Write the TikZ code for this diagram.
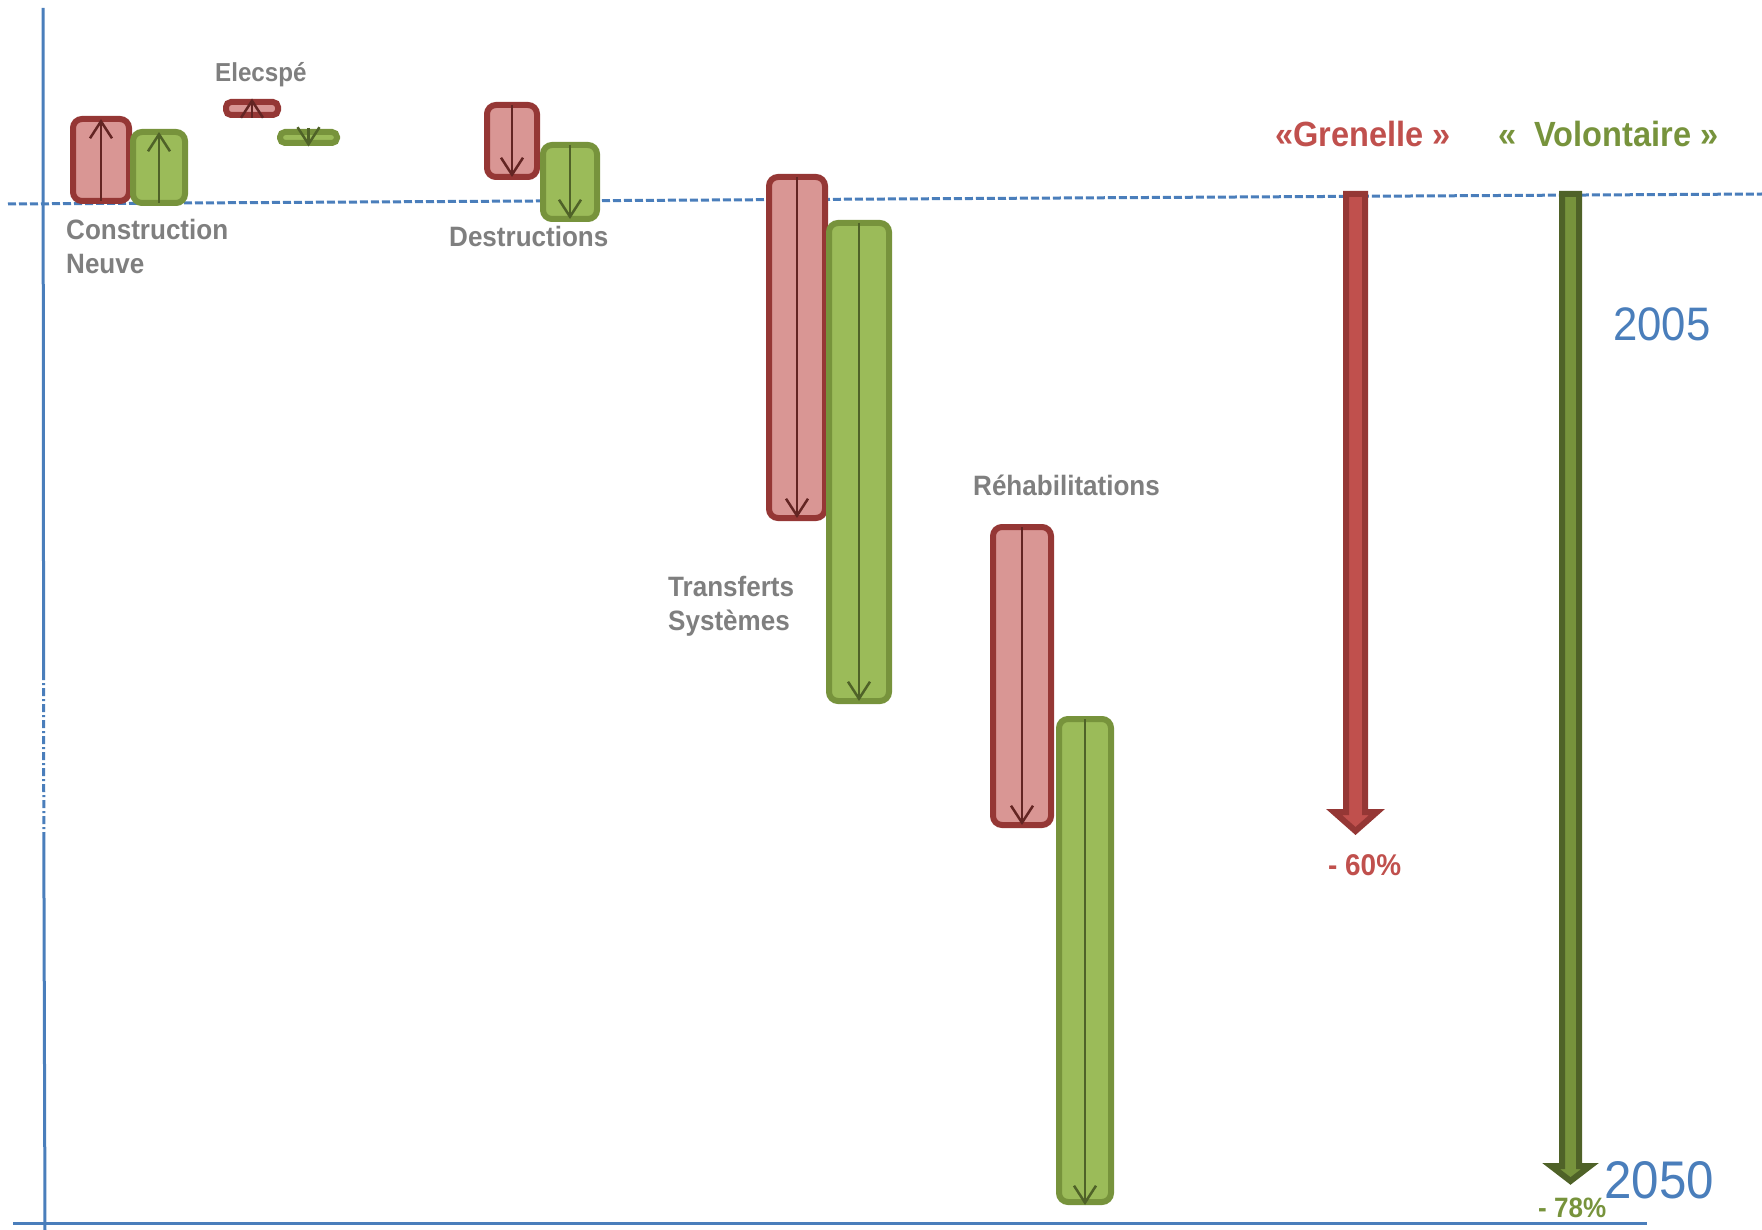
\documentclass[tikz,border=0pt]{standalone}
\usepackage{fontspec}
\setmainfont{Liberation Sans}[FakeStretch=0.93]
\usetikzlibrary{arrows.meta}

\definecolor{axisblue}{RGB}{74,126,187}
\definecolor{labelgrey}{RGB}{127,127,127}
\definecolor{myredfill}{RGB}{217,150,148}
\definecolor{myredline}{RGB}{149,55,53}
\definecolor{myreddark}{RGB}{99,37,35}
\definecolor{mygreenfill}{RGB}{155,187,89}
\definecolor{mygreenline}{RGB}{119,147,60}
\definecolor{mygreendark}{RGB}{79,98,40}
\definecolor{grenellered}{RGB}{192,80,77}

\begin{document}
\begin{tikzpicture}[x=1pt,y=-1pt]

\useasboundingbox (0,0) rectangle (1762,1230);

%
% Styles
%
\tikzstyle{bar}      = [rectangle, rounded corners=9pt, line width=6pt, inner sep=0pt, outer sep=0pt]
\tikzstyle{redbar}   = [bar, draw=myredline, fill=myredfill]
\tikzstyle{greenbar} = [bar, draw=mygreenline, fill=mygreenfill]
\tikzstyle{redflow}  = [-{Straight Barb[length=17pt,width=22pt]}, line width=2.5pt, myreddark]
\tikzstyle{greenflow}= [-{Straight Barb[length=17pt,width=22pt]}, line width=2.5pt, mygreendark]
\tikzstyle{lbl}      = [inner sep=0pt, anchor=base west, align=left, text=labelgrey, font=\fontsize{28}{34}\selectfont\bfseries]
\tikzstyle{axis}     = [axisblue, line width=3pt]
\tikzstyle{bigred}   = [draw=myredline, fill=grenellered, line width=6pt, line join=miter]
\tikzstyle{biggreen} = [draw=mygreendark, fill=mygreenline, line width=6pt, line join=miter]

% axes
\coordinate (ytop)  at (43, 8);
\coordinate (ygap1) at (43.6, 672);
\coordinate (ygap2) at (43.8, 832);
\coordinate (ybot)  at (45, 1230);
\coordinate (xleft) at (13, 1223);
\coordinate (xright) at (1647, 1223);
\coordinate (ref0)  at (8, 204);
\coordinate (ref1)  at (1762, 194);

\draw[axis] (ytop) -- (ygap1);
\draw[axis, dash pattern=on 8pt off 3pt on 2pt off 3pt] (ygap1) -- (ygap2);
\draw[axis] (ygap2) -- (ybot);
\draw[axis] (xleft) -- (xright);
\draw[axis, dash pattern=on 8pt off 3pt] (ref0) -- (ref1);

% bars
\node[redbar,   minimum width=56pt, minimum height=82pt]  (cnR) at ( 101, 160)   {};
\node[greenbar, minimum width=52pt, minimum height=71pt]  (cnG) at ( 159, 167.5) {};
\node[redbar,   minimum width=52pt, minimum height=13pt, rounded corners=5pt] (elR) at ( 252, 108.5) {};
\node[greenbar, minimum width=57pt, minimum height=11pt, rounded corners=5pt] (elG) at ( 308.5, 137.5) {};
\node[redbar,   minimum width=50pt, minimum height=72pt]  (deR) at ( 512, 141)   {};
\node[greenbar, minimum width=54pt, minimum height=74pt]  (deG) at ( 570, 182)   {};
\node[redbar,   minimum width=56pt, minimum height=341pt] (trR) at ( 797, 347.5) {};
\node[greenbar, minimum width=60pt, minimum height=478pt] (trG) at ( 859, 462)   {};
\node[redbar,   minimum width=58pt, minimum height=298pt] (reR) at (1022, 676)   {};
\node[greenbar, minimum width=52pt, minimum height=483pt] (reG) at (1085, 960.5) {};

\draw[redflow]   (cnR.south) -- (cnR.north);
\draw[greenflow] (cnG.south) -- (cnG.north);
\draw[redflow]   ([yshift=-3pt]elR.south) -- ([yshift=3.5pt]elR.north);
\draw[greenflow] ([yshift=4pt]elG.north) -- ([yshift=-3.5pt]elG.south);
\draw[redflow]   (deR.north) -- (deR.south);
\draw[greenflow] (deG.north) -- (deG.south);
\draw[redflow]   (trR.north) -- (trR.south);
\draw[greenflow] (trG.north) -- (trG.south);
\draw[redflow]   (reR.north) -- (reR.south);
\draw[greenflow] (reG.north) -- ([yshift=-3pt]reG.south);

% scenario arrows
\draw[bigred]   (1346,194) -- (1365,194) -- (1365,812) -- (1377,812) -- (1355.5,831)
                -- (1334,812) -- (1346,812) -- cycle;
\draw[biggreen] (1562,194) -- (1579,194) -- (1579,1166) -- (1590,1166) -- (1570.5,1181)
                -- (1551,1166) -- (1562,1166) -- cycle;

% labels
\node[lbl, font=\fontsize{26}{30}\selectfont\bfseries] (lelec) at ( 215,  81.7) {Elecspé};
\node[lbl] (lcons)  at (  66, 274)   {Construction\\Neuve};
\node[lbl] (ldest)  at ( 449, 247)   {Destructions};
\node[lbl] (ltrans) at ( 668, 630)   {Transferts\\Systèmes};
\node[lbl] (lrehab) at ( 973, 495)   {Réhabilitations};

\node[lbl, text=grenellered, font=\fontsize{35}{40}\selectfont\bfseries] (lgren) at (1275, 146.7) {«Grenelle »};
\node[lbl, text=mygreenline, font=\fontsize{35}{40}\selectfont\bfseries] (lvolo) at (1498, 146.7) {«~ Volontaire »};
\node[lbl, text=grenellered, font=\fontsize{30}{34}\selectfont\bfseries] (lsixty) at (1328, 875.7) {- 60\%};
\node[lbl, text=mygreenline, font=\fontsize{28}{32}\selectfont\bfseries] (lseventy) at (1538, 1217) {- 78\%};

\node[lbl, text=axisblue, font=\fontsize{47}{52}\selectfont] (lyear0) at (1613, 340.7) {2005};
\node[lbl, text=axisblue, font=\fontsize{53}{58}\selectfont] (lyear1) at (1604, 1198)  {2050};

\end{tikzpicture}
\end{document}
